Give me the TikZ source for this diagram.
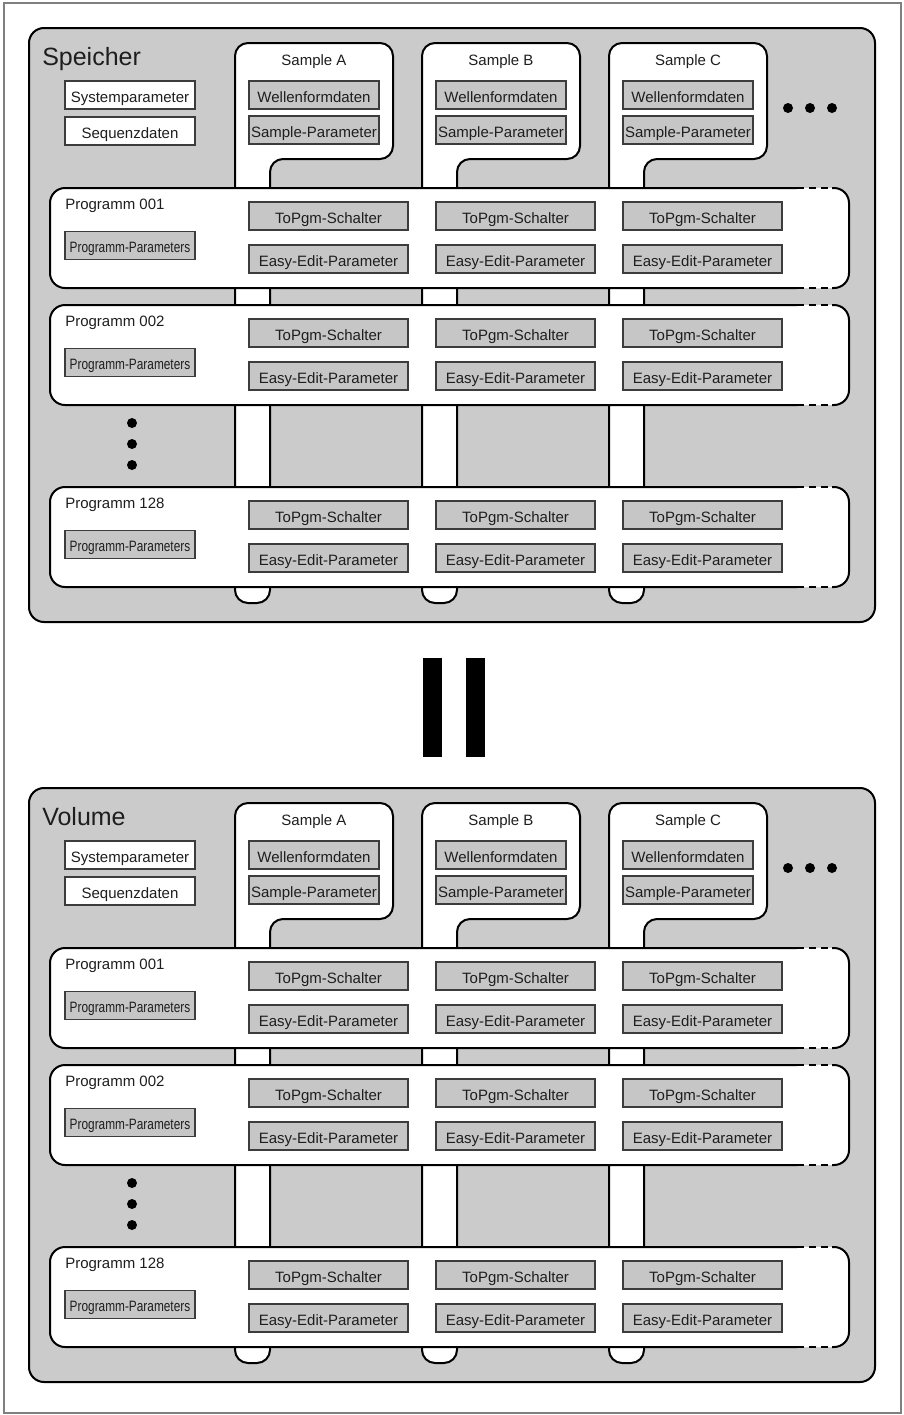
\documentclass[tikz,border=0pt]{standalone}
\usepackage{fontspec}
\setmainfont{Liberation Sans}
\definecolor{panelgrey}{HTML}{CBCBCB}
\definecolor{boxgrey}{HTML}{C6C6C6}
\definecolor{boxln}{HTML}{3C3C3C}
\definecolor{txt}{HTML}{1E1E1E}
\definecolor{framegrey}{HTML}{808080}
\newcommand\fsbox{\fontsize{11.25pt}{13pt}\selectfont}
\newcommand\fstitle{\fontsize{18.75pt}{22pt}\selectfont}
\newcommand\fspp{\fontsize{11.25pt}{13pt}\selectfont}
\tikzset{
 panelst/.style={draw=black, line width=1.5pt, fill=panelgrey, rounded corners=11.25pt},
 tabst/.style={draw=black, line width=1.5pt, fill=white, rounded corners=9.75pt},
 progln/.style={draw=black, line width=1.5pt},
 sbox/.style={draw=boxln, line width=0.9pt, inner sep=0pt, minimum height=21pt, text height=11.8pt, text depth=0pt, font=\fsbox, text=txt},
 wbox/.style={sbox, fill=white, minimum width=97.5pt},
 gbox/.style={sbox, fill=boxgrey, minimum width=97.5pt},
 ppbox/.style={gbox, text height=10.6pt},
 lbox/.style={sbox, fill=boxgrey, minimum width=119.25pt},
 lbl/.style={font=\fsbox, text=txt, inner sep=0pt},
 titlest/.style={font=\fstitle, text=txt, inner sep=0pt},
 dotst/.style={fill=black},
}
\newcommand{\mempanel}[3]{%
\begin{scope}[shift={(0,#1)}]
 \draw[panelst] (29,28) rectangle (875,622);
 \node[titlest, anchor=base west] (#3title) at (42,65) {#2};
 \node[wbox] (#3sys) at (130,95) {Systemparameter};
 \node[wbox] (#3seq) at (130,131) {Sequenzdaten};
 \foreach \L/\n in {235/A,422/B,609/C} {
  \draw[tabst] (\L,603) -- (\L,43) -- ({\L+158},43) -- ({\L+158},159) -- ({\L+35},159) -- ({\L+35},603) -- cycle;
  \node[lbl, anchor=base] (#3sl\n) at ({\L+79},65) {Sample \n};
  \node[gbox] (#3wf\n) at ({\L+79},95) {Wellenformdaten};
  \node[gbox] (#3sp\n) at ({\L+79},130) {Sample-Parameter};
 }
 \foreach \dx in {788,810,832} {\fill[dotst] (\dx,108) circle[radius=3.75pt];}
 \foreach \dy in {423,444,465} {\fill[dotst] (132,\dy) circle[radius=3.75pt];}
 \foreach \ptop/\pnum in {188/001,305/002,487/128} {
  \fill[white, rounded corners=11.25pt] (50,\ptop) rectangle (849,{\ptop+100});
  \draw[progln, rounded corners=11.25pt] (797,\ptop) -- (50,\ptop) -- (50,{\ptop+100}) -- (797,{\ptop+100});
  \draw[progln, dash pattern=on 5.25pt off 3.75pt] (797,\ptop) -- (832,\ptop) (797,{\ptop+100}) -- (832,{\ptop+100});
  \draw[progln, rounded corners=11.25pt] (832,\ptop) -- (849,\ptop) -- (849,{\ptop+100}) -- (832,{\ptop+100});
  \node[lbl, anchor=base west] (#3pn\pnum) at (65,{\ptop+21}) {Programm \pnum};
  \node[ppbox] (#3pp\pnum) at (130,{\ptop+57.5}) {\scalebox{0.79}[1]{\fspp Programm-Parameters}};
  \foreach \cx/\n in {328.5/A,515.5/B,702.5/C} {
   \node[lbox] (#3ts\pnum\n) at (\cx,{\ptop+28}) {ToPgm-Schalter};
   \node[lbox] (#3ee\pnum\n) at (\cx,{\ptop+71}) {Easy-Edit-Parameter};
  }
 }
\end{scope}}
\begin{document}
\begin{tikzpicture}[x=0.75pt,y=-0.75pt]
\useasboundingbox (0,0) rectangle (904,1415);
\fill[white] (0,0) rectangle (904,1415);
\draw[draw=framegrey, line width=1.1pt] (4,3) rectangle (901,1413);
\mempanel{0}{Speicher}{s}
\fill (423,658) rectangle (442,757);
\fill (466,658) rectangle (485,757);
\mempanel{760}{Volume}{v}
\end{tikzpicture}
\end{document}
